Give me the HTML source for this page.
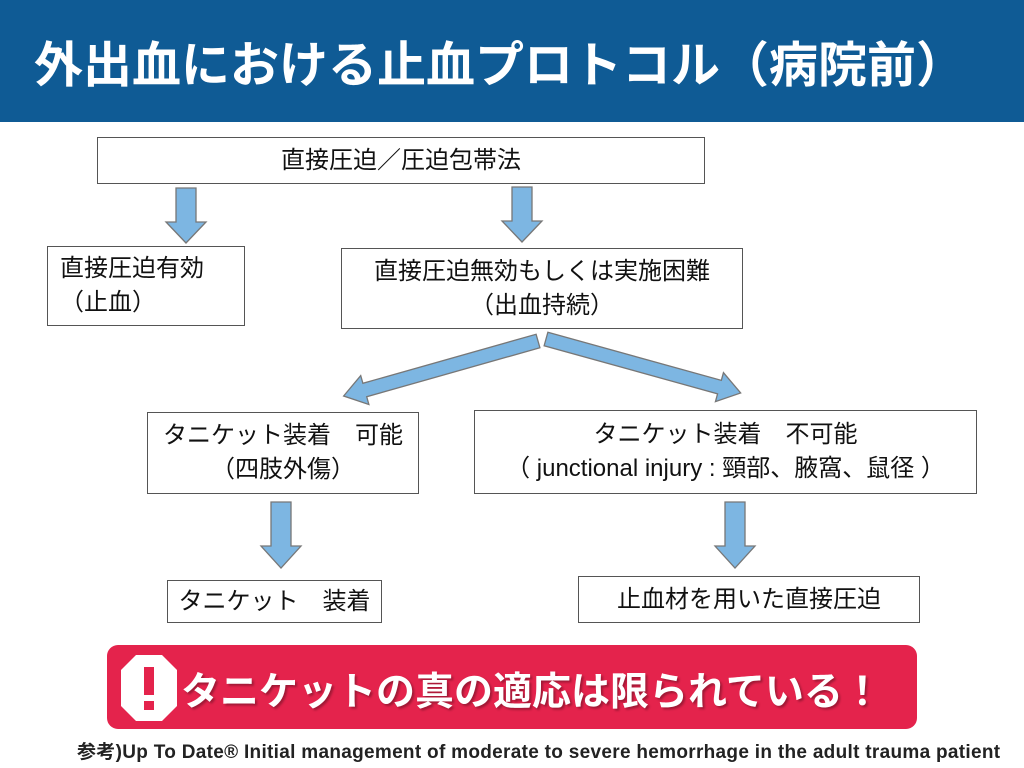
<!DOCTYPE html>
<html><head><meta charset="utf-8"><style>
body{margin:0;width:1024px;height:768px;background:#fff;position:relative;overflow:hidden;font-family:"Liberation Sans","Noto Sans CJK JP",sans-serif;color:#111}
.hd{position:absolute;left:0;top:0;width:1024px;height:122px;background:#0f5b95}
.hd div{position:absolute;left:34px;top:26px;color:#fff;font-weight:bold;font-size:49px;white-space:nowrap}
.b{position:absolute;border:1.5px solid #555;background:#fff;box-sizing:border-box;text-align:center;font-size:24px;line-height:34px;display:flex;flex-direction:column;justify-content:center}
.red{position:absolute;left:107px;top:645px;width:810px;height:84px;background:#e4234c;border-radius:11px}
.red .t{position:absolute;left:74px;top:16px;color:#fff;font-size:39px;font-weight:bold;white-space:nowrap;text-shadow:2px 2px 2px rgba(0,0,0,.3)}
.fn{position:absolute;left:77px;top:737px;font-size:19px;font-weight:bold;white-space:nowrap;color:#222;letter-spacing:0.3px}
</style></head><body>
<div class="hd"><div>外出血における止血プロトコル（病院前）</div></div>
<div class="b" style="left:97px;top:137px;width:608px;height:47px">直接圧迫／圧迫包帯法</div>
<div class="b" style="left:47px;top:246px;width:198px;height:80px;text-align:left;padding-left:12px">直接圧迫有効<br>（止血）</div>
<div class="b" style="left:341px;top:248px;width:402px;height:81px">直接圧迫無効もしくは実施困難<br>（出血持続）</div>
<div class="b" style="left:147px;top:412px;width:272px;height:82px">タニケット装着　可能<br>（四肢外傷）</div>
<div class="b" style="left:474px;top:410px;width:503px;height:84px">タニケット装着　不可能<br>（ junctional injury : 頸部、腋窩、鼠径 ）</div>
<div class="b" style="left:167px;top:580px;width:215px;height:43px">タニケット　装着</div>
<div class="b" style="left:578px;top:576px;width:342px;height:47px">止血材を用いた直接圧迫</div>
<svg width="1024" height="768" style="position:absolute;left:0;top:0">
<defs><polygon id="da" points="-10,0 10,0 10,34 20,34 0,55 -20,34 -10,34" fill="#7db6e2" stroke="#777" stroke-width="1.3"/>
<polygon id="db" points="-10,0 10,0 10,44 20,44 0,66 -20,44 -10,44" fill="#7db6e2" stroke="#777" stroke-width="1.3"/>
<polygon id="ha" points="0,-7 180,-7 180,-15 202,0 180,15 180,7 0,7" fill="#7db6e2" stroke="#777" stroke-width="1.3"/></defs>
<use href="#da" x="186" y="188"/>
<use href="#da" x="522" y="187"/>
<use href="#db" x="281" y="502"/>
<use href="#db" x="735" y="502"/>
<use href="#ha" transform="translate(538,341) rotate(164.2)"/>
<use href="#ha" transform="translate(546,339) rotate(15.5)"/>
</svg>
<div class="red">
<svg width="60" height="70" style="position:absolute;left:12px;top:8px"><polygon points="17,2 43,2 58,17 58,53 43,68 17,68 2,53 2,17" fill="#fff"/><rect x="25" y="14" width="10" height="28" fill="#e4234c"/><rect x="25" y="48" width="10" height="9" fill="#e4234c"/></svg>
<div class="t">タニケットの真の適応は限られている！</div>
</div>
<div class="fn">参考)Up To Date® Initial management of moderate to severe hemorrhage in the adult trauma patient</div>
</body></html>
